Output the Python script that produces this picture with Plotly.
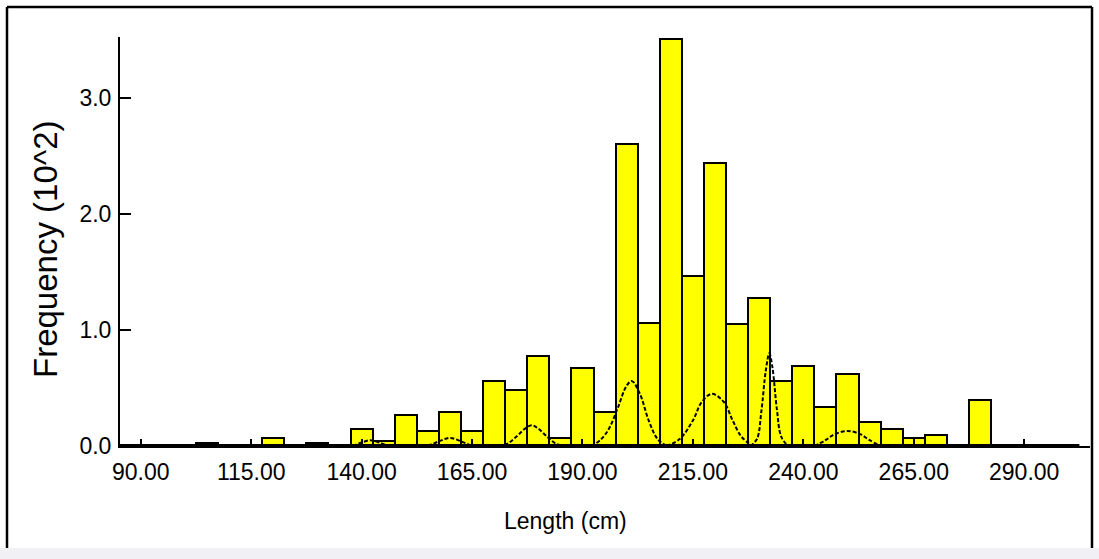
import plotly.graph_objects as go

# ---- data ----
length_bins = [85, 90, 95, 100, 105, 110, 115, 120, 125, 130, 135, 140, 145, 150,
               155, 160, 165, 170, 175, 180, 185, 190, 195, 200, 205, 210, 215,
               220, 225, 230, 235, 240, 245, 250, 255, 260, 265, 270, 275, 280,
               285, 290, 295, 300]
frequency = [0, 0, 0, 0, 0.03, 0, 0, 0.07, 0, 0.03, 0, 0.15, 0.04, 0.27,
             0.13, 0.29, 0.13, 0.56, 0.48, 0.78, 0.07, 0.67, 0.29, 2.61, 1.06, 3.51, 1.47,
             2.44, 1.05, 1.28, 0.56, 0.69, 0.34, 0.62, 0.21, 0.15, 0.07, 0.095, 0, 0.40,
             0, 0, 0, 0]
bin_width = 5

# fitted component curves
comp1_x = [138, 140, 142, 144, 146]
comp1_y = [0, 0.03, 0.05, 0.03, 0]
comp2_x = [155, 157.5, 160, 162.5, 165]
comp2_y = [0, 0.04, 0.07, 0.04, 0]
comp3_x = [171, 173, 175, 177, 178.5, 180, 182, 184, 186]
comp3_y = [0, 0.02, 0.08, 0.15, 0.18, 0.15, 0.08, 0.02, 0]
comp4_x = [192, 194, 196, 198, 200, 201.2, 203, 205, 207, 209]
comp4_y = [0, 0.05, 0.15, 0.33, 0.52, 0.56, 0.45, 0.22, 0.06, 0]
comp5_x = [209, 212, 215, 217, 219.3, 222, 224, 226, 228.5]
comp5_y = [0, 0.06, 0.22, 0.38, 0.45, 0.38, 0.22, 0.08, 0]
comp6_x = [228, 229.5, 230.5, 231.5, 232.3, 233, 234, 235, 236.5]
comp6_y = [0, 0.06, 0.30, 0.65, 0.80, 0.68, 0.32, 0.08, 0]
comp7_x = [242.5, 245, 247, 250, 253, 255, 257.5]
comp7_y = [0, 0.05, 0.10, 0.13, 0.10, 0.05, 0]

x_tick_vals = [90, 115, 140, 165, 190, 215, 240, 265, 290]
x_tick_text = ["90.00", "115.00", "140.00", "165.00", "190.00", "215.00",
               "240.00", "265.00", "290.00"]
y_tick_vals = [0, 1, 2, 3]
y_tick_text = ["0.0", "1.0", "2.0", "3.0"]
x_title = "Length (cm)"
y_title = "Frequency (10^2)"

FONT = "Liberation Sans, Arial, sans-serif"

fig = go.Figure()
fig.add_trace(go.Bar(
    x=length_bins, y=frequency, width=bin_width,
    marker=dict(color="#FFFF00", line=dict(color="black", width=2)),
    showlegend=False, hoverinfo="x+y"))

for cx, cy in [(comp1_x, comp1_y), (comp2_x, comp2_y), (comp3_x, comp3_y),
               (comp4_x, comp4_y), (comp5_x, comp5_y), (comp6_x, comp6_y),
               (comp7_x, comp7_y)]:
    fig.add_trace(go.Scatter(
        x=cx, y=cy, mode="lines",
        line=dict(color="black", width=2, dash="4px,2px", shape="spline"),
        showlegend=False, hoverinfo="skip"))

# thick baseline along the class range
fig.add_shape(type="line", xref="x", yref="y",
              x0=length_bins[0] - bin_width / 2, x1=length_bins[-1] + bin_width / 2,
              y0=0, y1=0, line=dict(color="black", width=4), layer="above")

L, R, T, B = 120, 9, 37, 113
W, H = 1099, 559
pw, ph = W - L - R, H - T - B


def px(xp):
    return (xp - L) / pw


def py(yp):
    return (H - B - yp) / ph


# outer frame (left, top, right) and light strip at the bottom
frame = dict(color="black", width=2.5)
fig.add_shape(type="line", xref="paper", yref="paper", x0=px(7), x1=px(7), y0=py(7), y1=py(548), line=frame)
fig.add_shape(type="line", xref="paper", yref="paper", x0=px(7), x1=px(1092), y0=py(7), y1=py(7), line=frame)
fig.add_shape(type="line", xref="paper", yref="paper", x0=px(1092), x1=px(1092), y0=py(7), y1=py(548), line=frame)
fig.add_shape(type="rect", xref="paper", yref="paper", x0=px(0), x1=px(W), y0=py(548), y1=py(H),
              fillcolor="#f0f0f5", line=dict(width=0), layer="below")

# axis titles
fig.add_annotation(text=x_title, xref="paper", yref="paper", x=px(565), y=py(521),
                   xanchor="center", yanchor="middle", showarrow=False,
                   font=dict(family=FONT, size=23, color="black"))
fig.add_annotation(text=y_title, xref="paper", yref="paper", x=px(46), y=py(249),
                   xanchor="center", yanchor="middle", showarrow=False, textangle=-90,
                   font=dict(family=FONT, size=33, color="black"))

fig.update_layout(
    width=W, height=H,
    margin=dict(l=L, r=R, t=T, b=B, autoexpand=False),
    paper_bgcolor="white", plot_bgcolor="white",
    bargap=0,
    xaxis=dict(range=[85.3, 304.9], tickvals=x_tick_vals, ticktext=x_tick_text,
               ticks="inside", ticklen=7, tickwidth=2, tickcolor="black",
               showline=True, linewidth=2, linecolor="black",
               showgrid=False, zeroline=False, ticklabelstandoff=4,
               tickfont=dict(family=FONT, size=23, color="black")),
    yaxis=dict(range=[0, 3.53], tickvals=y_tick_vals, ticktext=y_tick_text,
               ticks="inside", ticklen=11, tickwidth=2, tickcolor="black",
               showline=True, linewidth=2, linecolor="black",
               showgrid=False, zeroline=False, ticklabelstandoff=2,
               tickfont=dict(family=FONT, size=23, color="black")),
)

fig.write_html("out.html", config={"displayModeBar": False},
               post_script="document.body.style.margin='0';document.body.style.overflow='hidden';")
